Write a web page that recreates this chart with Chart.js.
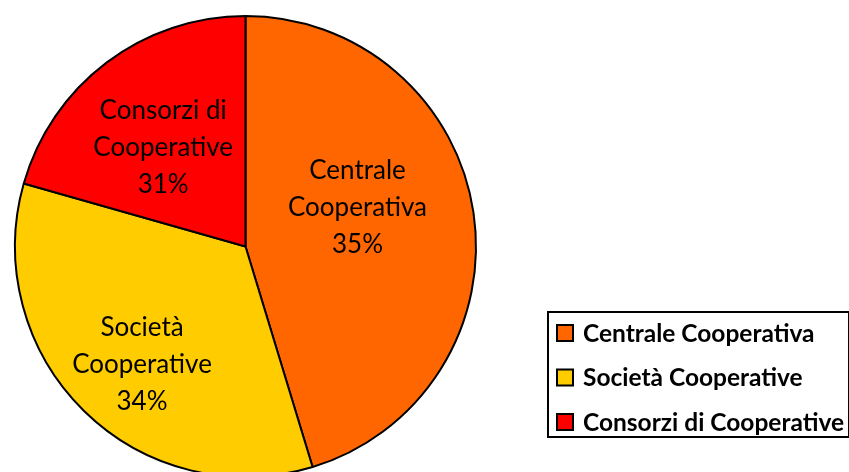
<!DOCTYPE html>
<html>
<head>
<meta charset="utf-8">
<script src="https://cdn.jsdelivr.net/npm/chart.js@4"></script>
<style>
  html, body { margin: 0; padding: 0; background: #fff; overflow: hidden; }
  #wrap { width: 849px; height: 500px; }
</style>
</head>
<body>
<div id="wrap"><canvas id="pieChart" width="849" height="500"></canvas></div>
<script>
// Dati (ampiezza delle fette) e etichette mostrate
const categories = ['Centrale Cooperativa', 'Società Cooperative', 'Consorzi di Cooperative'];
const sliceValues = [45.3, 34.1, 20.6];
const percentLabels = ['35%', '34%', '31%'];
const labelLines = [['Centrale', 'Cooperativa'], ['Società', 'Cooperative'], ['Consorzi di', 'Cooperative']];
const colors = ['#FF6600', '#FFCC00', '#FF0000'];

const FONT = 'Lato, "Open Sans", sans-serif';

// Etichette dentro le fette (spostamento angolare in gradi, raggio relativo)
const sliceLabels = {
  id: 'sliceLabels',
  afterDatasetsDraw(chart) {
    const ctx = chart.ctx;
    const place = [[-10.9, 0.515], [-3.3, 0.682], [-2.8, 0.557]];
    chart.getDatasetMeta(0).data.forEach((arc, i) => {
      const mid = (arc.startAngle + arc.endAngle) / 2 + place[i][0] * Math.PI / 180;
      const r = arc.outerRadius * place[i][1];
      const x = arc.x + Math.cos(mid) * r;
      const y = arc.y + Math.sin(mid) * r;
      const lines = labelLines[i].concat([percentLabels[i]]);
      ctx.save();
      ctx.fillStyle = '#000';
      ctx.font = '26px ' + FONT;
      ctx.textAlign = 'center';
      ctx.textBaseline = 'middle';
      lines.forEach((t, k) => ctx.fillText(t, x, y + (k - 1) * 37));
      ctx.restore();
    });
  }
};

// Legenda con riquadro
const boxLegend = {
  id: 'boxLegend',
  afterDraw(chart) {
    const ctx = chart.ctx;
    const left = 548, top = 312, bottom = 437, right = 849;
    ctx.save();
    ctx.strokeStyle = '#000';
    ctx.lineWidth = 2;
    ctx.strokeRect(left, top, right - left, bottom - top);
    ctx.font = 'bold 24.5px ' + FONT;
    ctx.textBaseline = 'middle';
    categories.forEach((c, i) => {
      const cy = 333 + i * 44.5;
      ctx.fillStyle = colors[i];
      ctx.fillRect(557, cy - 8, 16, 16);
      ctx.lineWidth = 2;
      ctx.strokeRect(557, cy - 8, 16, 16);
      ctx.fillStyle = '#000';
      ctx.fillText(c, 583, cy + 1);
    });
    ctx.restore();
  }
};

new Chart(document.getElementById('pieChart').getContext('2d'), {
  type: 'pie',
  data: {
    labels: categories,
    datasets: [{
      data: sliceValues,
      backgroundColor: colors,
      borderColor: '#000',
      borderWidth: 2
    }]
  },
  options: {
    responsive: false,
    animation: false,
    layout: { padding: { left: 14, top: 15, right: 372, bottom: 22 } },
    plugins: {
      legend: { display: false },
      tooltip: { enabled: false }
    }
  },
  plugins: [sliceLabels, boxLegend]
});
</script>
</body>
</html>
